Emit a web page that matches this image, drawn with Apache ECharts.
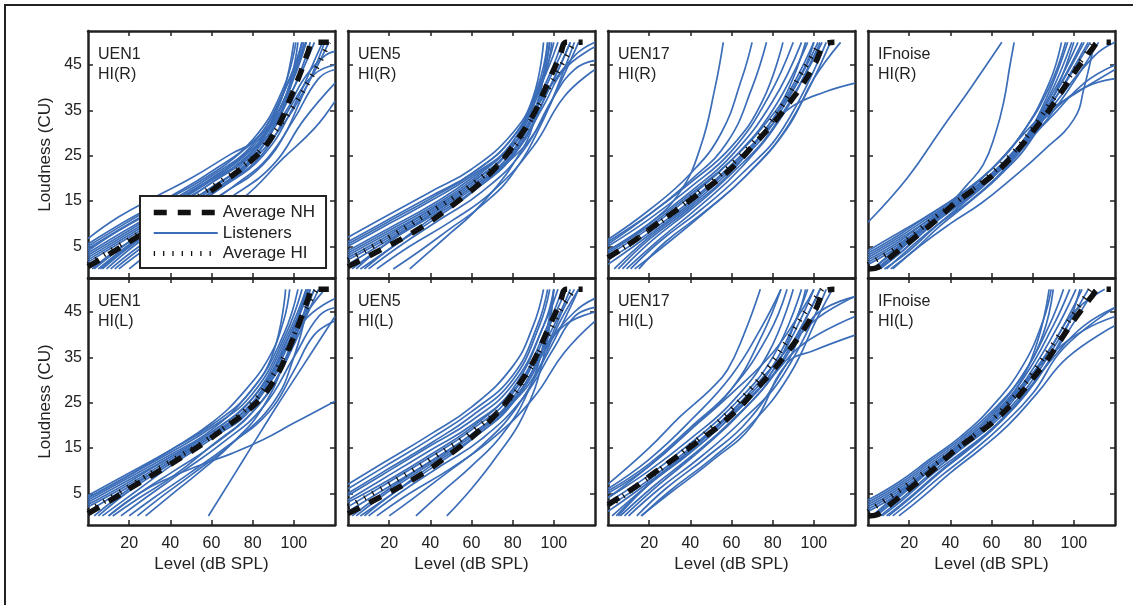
<!DOCTYPE html>
<html>
<head>
<meta charset="utf-8">
<script src="https://cdn.jsdelivr.net/npm/echarts@6/dist/echarts.min.js"></script>
<style>
html,body{margin:0;padding:0;background:#fff;}
#chart{width:1133px;height:605px;}
</style>
</head>
<body>
<div id="chart"></div>
<script>
// ---------- DATA ----------
const xTicks = [20, 40, 60, 80, 100];
const yTicks = [5, 15, 25, 35, 45];
const panelNames = [
  ['UEN1', 'HI(R)'], ['UEN5', 'HI(R)'], ['UEN17', 'HI(R)'], ['IFnoise', 'HI(R)'],
  ['UEN1', 'HI(L)'], ['UEN5', 'HI(L)'], ['UEN17', 'HI(L)'], ['IFnoise', 'HI(L)']
];
const legendNames = ['Average NH', 'Listeners', 'Average HI'];

// Average NH, one per stimulus
const nhUEN1 = [[0,0.5],[13,4],[23,6.8],[35,10],[45,12.8],[57,16.3],[67,19.6],[77,23],[86,27],[93,32],[98,37.3],[103,43],[107,48],[109,50],[117,50]];
const nhUEN5 = [[0,0.5],[15,4],[35,9],[55,15.5],[70,21.5],[80,27],[90,34],[97,41],[103,47],[106,50],[114,50]];
const nhUEN17 = [[0,2.5],[12,6],[23,9.7],[33,12.9],[43,16.2],[53,19.5],[63,23.5],[71,27.5],[80,32],[88,36.6],[95,41],[101,45.7],[105,49.5],[110,50]];
const nhIF = [[0,0],[4,0.2],[12,3],[23,7],[33,10.7],[42,14.4],[52,17.7],[62,21.2],[71,25.3],[79,29.7],[87,34.4],[94,39.1],[101,43.8],[109,48.6],[112,50],[118,50]];

// Average HI, one per panel
const hiUEN1R = [[0,1],[20,6.5],[40,12],[60,18],[80,24.5],[92,31],[100,36],[108,42],[113,46],[117,50]];
const hiUEN5R = [[0,2],[20,7],[40,12.5],[60,18.5],[80,26.5],[95,38],[105,46],[110,50]];
const hiUEN17R = [[0,2.5],[20,8.5],[40,15.5],[60,23],[80,33],[95,44],[103,50]];
const hiIFR = [[0,1],[15,5],[30,10.5],[45,15.5],[60,21],[75,28],[90,37.5],[102,45],[110,50]];
const hiUEN1L = [[0,1],[20,6.5],[40,12],[60,17.5],[80,25],[95,35],[104,44],[111,50]];
const hiUEN5L = [[0,2],[20,7],[40,12.5],[60,18.5],[80,26.5],[95,38],[104,46],[110,50]];
const hiUEN17L = [[0,2],[20,8.5],[40,15.5],[60,23.5],[80,34],[95,44.5],[104,50]];
const hiIFL = [[0,1],[15,5.5],[30,10.5],[45,15.5],[60,21],[75,28.5],[90,38],[102,46],[108,50]];

// Individual listeners: [level dB SPL, loudness CU]
const lisUEN1R = [
  [[0,6.7],[15,11.5],[33,16],[50,20],[70,25.5],[80,28],[90,34],[95,39],[100,50]],
  [[0,5.5],[20,11],[40,16],[60,21.5],[80,28.5],[95,40],[101,50]],
  [[0,4.5],[20,10],[40,15],[60,20.5],[80,27.5],[96,40],[104,50]],
  [[0,3.5],[20,9],[40,14],[60,19.5],[80,26],[97,39],[106,50]],
  [[0,2.5],[20,8],[40,13.5],[60,19],[80,26],[98,42],[104,50]],
  [[0,1.5],[20,7],[40,12.5],[60,18],[80,25],[100,44],[106,50]],
  [[3,0],[20,6],[40,12],[60,18],[80,24.5],[98,38],[108,50]],
  [[7,0],[22,5.5],[40,11],[60,17],[80,24],[100,40],[110,50]],
  [[11,0],[25,5],[45,11],[65,16.5],[85,23],[100,33],[112,42],[120,44]],
  [[15,0],[30,5],[50,10.5],[70,16],[90,23],[105,33],[120,41]],
  [[20,0],[35,5],[55,10],[75,15.5],[95,24.5],[110,31],[120,37]],
  [[5,0],[25,7],[45,12.5],[65,18],[85,25],[100,36],[112,48],[114,50]],
  [[0,3],[20,8.5],[40,14],[60,20],[80,27],[95,37],[102,50]],
  [[9,0],[25,6],[45,12],[65,18],[85,25.5],[100,37],[110,43],[120,45]],
  [[13,0],[30,6],[50,12],[70,18],[90,26],[105,39],[115,50]],
  [[0,2],[20,7.5],[40,13],[60,19],[80,26],[95,34],[105,42],[115,47],[120,48]],
  [[0,4],[15,8.5],[35,13.5],[55,18.5],[75,24.5],[90,32],[98,40],[104,50]],
  [[2,0],[15,4.5],[35,10],[55,16],[75,23],[92,33],[102,45],[106,50]],
  [[0,5],[18,10],[35,14.5],[55,19.5],[75,26],[90,33],[100,43],[105,50]],
  [[6,0],[20,5],[40,11],[60,17],[80,24],[95,32],[107,41],[117,50]]
];
const lisUEN5R = [
  [[0,7],[20,12],[40,17],[60,22],[80,30],[90,38],[95,50]],
  [[0,6],[20,11],[40,16],[60,21],[80,29],[92,40],[97,50]],
  [[0,5],[20,10],[40,15],[60,20.5],[80,28],[95,42],[99,50]],
  [[0,4],[20,9],[40,14],[60,20],[80,28],[96,44],[100,50]],
  [[0,3],[20,8],[40,13],[60,19],[80,27],[97,44],[102,50]],
  [[0,2],[20,7],[40,12.5],[60,18.5],[80,26],[98,43],[104,50]],
  [[2,0],[20,6],[40,12],[60,18],[80,25.5],[100,44],[106,50]],
  [[6,0],[22,5],[40,11],[60,17],[80,25],[100,42],[108,50]],
  [[10,0],[25,5],[45,11],[65,17],[85,26],[100,38],[110,44],[120,46]],
  [[14,0],[30,5],[50,10.5],[70,17],[90,27],[105,38],[120,44]],
  [[30,0],[40,4],[50,8],[60,12],[70,17],[80,23],[90,32],[97,50]],
  [[0,1],[20,6.5],[40,12],[60,18],[80,25],[95,36],[105,44],[120,49]],
  [[4,0],[20,6],[40,11.5],[60,17.5],[80,24.5],[92,31],[102,40],[112,50]],
  [[0,3.5],[20,8.5],[40,13.5],[60,19.5],[80,27.5],[90,34],[98,50]],
  [[0,5.5],[20,10.5],[40,15.5],[60,21],[80,29],[93,40],[98,50]],
  [[8,0],[22,5],[42,11],[62,17.5],[82,26],[98,40],[108,50]],
  [[22,0],[35,4],[50,9],[65,14],[80,21],[95,33],[105,44],[110,50]],
  [[0,2.5],[20,7.5],[40,13],[60,19],[80,27],[95,38],[110,47],[120,50]]
];
const lisUEN17R = [
  [[0,4],[20,10],[35,17],[45,27],[52,40],[56,50]],
  [[0,6],[20,12],[40,19],[60,27],[75,37],[85,50]],
  [[0,5],[20,11],[40,18],[60,26],[78,38],[90,50]],
  [[0,4],[20,10],[40,17],[60,25],[80,37],[94,50]],
  [[0,3],[20,9],[40,16],[60,24],[80,35],[97,50]],
  [[0,2],[20,8],[40,15],[60,23],[80,33],[100,50]],
  [[3,0],[20,7],[40,14],[60,22],[80,32],[102,50]],
  [[7,0],[22,6.5],[40,13],[60,21],[80,31],[104,50]],
  [[11,0],[25,6],[45,13],[65,21],[85,31],[106,50]],
  [[15,0],[28,6],[48,13],[68,21],[88,32],[108,50]],
  [[0,1],[20,7.5],[40,14.5],[60,22.5],[80,32],[90,36],[105,39],[120,41]],
  [[5,0],[20,6.5],[40,13.5],[60,21.5],[80,33],[95,44],[100,50]],
  [[0,3.5],[20,9.5],[40,16.5],[60,24],[80,34],[88,40],[96,50]],
  [[9,0],[25,6.5],[45,14],[65,22.5],[85,34],[100,47],[103,50]],
  [[0,6.5],[20,13],[40,21],[55,30],[65,42],[70,50]],
  [[0,5.5],[20,12],[40,19.5],[58,28],[70,40],[77,50]],
  [[13,0],[27,5],[47,12.5],[67,20.5],[87,31],[100,42],[113,50]]
];
const lisIFR = [
  [[0,3],[15,7],[30,11.5],[45,16],[60,21],[75,28],[90,38],[105,50]],
  [[0,2],[15,6],[30,11],[45,15.5],[60,21],[75,28],[90,39],[102,50]],
  [[0,1],[15,5],[30,10.5],[45,15],[60,20.5],[75,27.5],[90,38],[104,50]],
  [[2,0],[15,4.5],[30,10],[45,15],[60,20],[75,27],[90,37],[107,50]],
  [[5,0],[17,4],[30,9.5],[45,14.5],[60,20],[75,28],[88,38],[99,50]],
  [[8,0],[20,4],[32,9],[45,14],[60,20],[75,28],[87,38],[97,50]],
  [[11,0],[22,4],[35,9.5],[50,15],[65,21],[80,29],[92,40],[100,50]],
  [[0,2.5],[15,6.5],[30,11],[45,16],[60,22],[75,30],[88,40],[96,50]],
  [[0,1.5],[15,5.5],[30,10.5],[45,15.5],[60,21],[75,28],[90,35],[105,40],[120,42]],
  [[3,0],[15,5],[30,10],[45,15],[60,20],[75,27],[90,34],[105,41],[120,45]],
  [[12,0],[25,5],[40,10],[55,14.5],[70,20],[85,26],[100,33],[105,40],[110,50]],
  [[0,10.3],[19,20],[35,30.4],[50,40],[65,50]],
  [[5,0],[20,6],[35,12],[48,18.5],[56,23],[62,30],[66,37],[69,45],[71,50]],
  [[6,0],[18,4.5],[32,10],[48,15.5],[62,21],[76,28],[90,37],[100,44],[108,50]],
  [[0,4],[15,8],[30,12],[45,16.5],[60,22],[72,28],[85,34],[100,38.5],[120,44]],
  [[0,3.5],[15,7.5],[30,12],[45,16.5],[60,22],[75,30],[88,41],[94,50]],
  [[4,0],[16,4.5],[30,10],[45,15],[60,20.5],[75,27],[90,36],[110,47],[120,50]],
  [[9,0],[20,4.5],[33,9.5],[48,14.5],[62,20],[76,27],[92,36],[112,50]]
];
const lisUEN1L = [
  [[0,4.5],[20,9.5],[40,14.5],[60,20],[80,28],[95,40],[102,50]],
  [[0,4],[20,9],[40,14],[60,19.5],[80,27],[96,40],[104,50]],
  [[0,3],[20,8],[40,13],[60,18.5],[80,26],[97,40],[106,50]],
  [[0,2],[20,7],[40,12.5],[60,18],[80,25],[98,40],[108,50]],
  [[3,0],[20,6],[40,12],[60,17.5],[80,24.5],[100,42],[106,50]],
  [[7,0],[22,5],[40,11],[60,17],[80,24],[100,40],[110,50]],
  [[12,0],[25,4],[42,9],[60,15.5],[80,23],[95,33],[105,45],[108,50]],
  [[16,0],[28,4],[45,9.5],[65,16],[85,24],[100,35],[112,44],[120,46]],
  [[20,0],[32,4],[48,9],[68,15.5],[88,23],[100,32],[110,40],[120,43]],
  [[24,0],[35,4],[50,9],[70,16],[90,25],[100,35],[108,48],[110,50]],
  [[58.5,0],[75,12],[90,23],[105,33.5],[120,44]],
  [[10,0],[25,5],[40,8.5],[55,11.3],[70,13.8],[85,16.8],[100,20.5],[120,25.3]],
  [[0,1],[20,6.5],[40,12],[60,18],[80,25],[96,37],[104,46],[107,50]],
  [[5,0],[20,5.5],[40,11.5],[60,17.5],[80,25],[95,34],[105,43],[120,48]],
  [[0,3.5],[20,8.5],[40,13.5],[60,19],[78,27],[90,36],[96,50]],
  [[0,4],[20,9],[40,14.5],[60,20.5],[75,27],[88,35],[95,43],[98,50]],
  [[0,2.5],[20,7.5],[40,13],[60,18.5],[80,26],[95,36],[105,44],[115,50]],
  [[10,0],[25,5],[42,10],[62,16],[82,24],[97,35],[108,46],[112,50]],
  [[28,0],[40,4.5],[55,10],[70,16],[85,24],[97,36],[104,46],[107,50]]
];
const lisUEN5L = [
  [[0,7],[20,12.5],[40,18],[60,24],[80,33],[90,42],[95,50]],
  [[0,6],[20,11.5],[40,17],[60,23],[80,31],[92,42],[97,50]],
  [[0,4.5],[20,10],[40,15.5],[60,21],[80,29],[95,42],[100,50]],
  [[0,3.5],[20,9],[40,14.5],[60,20],[80,28],[97,44],[102,50]],
  [[0,2],[20,7.5],[40,13],[60,19],[80,27],[98,43],[104,50]],
  [[2,0],[20,6],[40,12],[60,18],[80,26],[100,44],[106,50]],
  [[6,0],[22,5],[40,11],[60,17],[80,25],[100,42],[108,50]],
  [[10,0],[25,5],[45,11],[65,17],[85,26],[100,37],[110,44],[120,46]],
  [[14,0],[30,5],[50,10.5],[70,17],[90,26],[105,36],[120,43]],
  [[33,0],[45,5],[60,11],[75,18],[88,28],[96,40],[100,50]],
  [[48,0],[60,6],[72,13],[85,22],[95,35],[100,50]],
  [[0,1],[20,6.5],[40,12],[60,18],[80,25.5],[95,36],[105,42],[120,45]],
  [[4,0],[20,5.5],[40,11.5],[60,17.5],[80,25],[92,32],[102,42],[112,50]],
  [[0,5],[20,10.5],[40,16],[60,22],[80,30],[93,42],[98,50]],
  [[8,0],[22,5],[42,11],[62,17.5],[82,26],[97,38],[105,46],[110,50]],
  [[20,0],[32,4],[48,9.5],[65,15.5],[82,24],[97,36],[108,46],[112,50]],
  [[0,3],[20,8],[40,13.5],[60,19.5],[80,27.5],[95,37],[110,45],[120,48]]
];
const lisUEN17L = [
  [[0,7],[20,15],[35,21.9],[50,28],[58,32.2],[66,40],[74,50]],
  [[0,5],[20,11],[40,19],[60,28],[75,40],[84,50]],
  [[0,4],[20,10],[40,17],[60,25],[78,36],[90,50]],
  [[0,3],[20,9],[40,16],[60,24],[80,35],[94,50]],
  [[0,2],[20,8],[40,15],[60,23],[80,33],[97,50]],
  [[2,0],[20,7],[40,14],[60,22],[80,32],[100,50]],
  [[6,0],[22,6.5],[40,13],[60,21],[80,31],[103,50]],
  [[10,0],[25,6],[45,13],[65,21],[85,31],[106,50]],
  [[14,0],[28,6],[48,13],[68,21],[86,33],[100,44],[120,48.4]],
  [[16,0],[30,5],[50,12],[70,20],[87,33.7],[100,36.5],[120,39.9]],
  [[0,1],[20,7.5],[40,14.5],[60,22.5],[80,31],[95,38],[120,44]],
  [[4,0],[20,7],[40,14],[60,22],[80,32],[92,44],[96,50]],
  [[0,4],[20,11],[40,19],[60,27],[80,36],[95,46],[100,50]],
  [[8,0],[25,7],[45,14.5],[65,23],[85,34],[100,47],[103,50]],
  [[0,6],[20,12.5],[40,21],[60,31],[75,42],[84,50]],
  [[0,5.5],[20,11.5],[40,19.5],[60,28],[78,40],[87,50]],
  [[5,0],[20,7],[40,14.5],[60,23],[80,33],[100,43],[120,48.4]],
  [[16.4,0],[30,5.5],[50,12.5],[70,20.5],[88,31],[102,44],[109,50]]
];
const lisIFL = [
  [[0,3],[15,7],[30,12],[45,17],[60,23],[75,31],[88,42],[95,50]],
  [[0,2],[15,6],[30,11],[45,16],[60,22],[75,30],[90,42],[98,50]],
  [[0,1],[15,5],[30,10.5],[45,15.5],[60,21],[75,29],[90,40],[101,50]],
  [[3,0],[15,4.5],[30,10],[45,15],[60,20.5],[75,28],[90,38],[104,50]],
  [[6,0],[18,4.5],[32,10],[46,15],[60,20],[75,27],[90,37],[107,50]],
  [[9,0],[20,4],[34,9.5],[48,14.5],[62,20],[77,27],[92,37],[110,50]],
  [[12,0],[23,4],[36,9],[50,14],[64,19.5],[80,27],[95,37],[120,46]],
  [[15,0],[26,4],[40,9.5],[54,14.5],[68,20],[82,27],[97,35],[120,42]],
  [[0,2.5],[15,6.5],[30,11.5],[45,16.5],[60,22.5],[75,31],[85,40],[90,50]],
  [[0,1.5],[15,5.5],[30,10.5],[45,16],[60,21.5],[75,29],[90,36],[105,41],[120,44]],
  [[4,0],[16,4.5],[30,10],[45,15.5],[60,21],[72,28],[82,38],[88,50]],
  [[10,0],[22,4.5],[36,10],[50,15],[65,21],[80,29],[95,40],[103,50]],
  [[0,3.5],[15,7.5],[30,12.5],[45,17.5],[60,24],[75,33],[85,43],[89,50]],
  [[2,0],[15,5],[30,10.5],[45,15.5],[60,21],[75,28.5],[90,38],[100,45],[115,50]],
  [[7,0],[18,4],[32,9.5],[47,14.5],[62,20],[77,27.5],[92,36],[105,42],[120,46]]
];

// ---------- BUILD ----------
const listenerSets = [lisUEN1R, lisUEN5R, lisUEN17R, lisIFR, lisUEN1L, lisUEN5L, lisUEN17L, lisIFL];
const nhSets = [nhUEN1, nhUEN5, nhUEN17, nhIF, nhUEN1, nhUEN5, nhUEN17, nhIF];
const hiSets = [hiUEN1R, hiUEN5R, hiUEN17R, hiIFR, hiUEN1L, hiUEN5L, hiUEN17L, hiIFL];

const FONT = '"Liberation Sans", Arial, Helvetica, sans-serif';
const TXT = '#222';
const BLUE = '#3b6db8';
const BLACK = '#111';
const colLeft = [88, 348, 608, 868];
const rowTop = [31, 278];
const PW = 247, PH = 247;
const nhStyle = { color: BLACK, width: 5.5, type: [13, 11], cap: 'butt' };
const hiStyle = { color: BLACK, width: 5, type: [1.3, 8], cap: 'butt' };
const lisStyle = { color: BLUE, width: 1.7 };

const grids = [], xAxes = [], yAxes = [], series = [], titles = [];
const lineAx = { show: true, onZero: false, lineStyle: { color: '#222', width: 2.5 } };

for (let i = 0; i < 8; i++) {
  const r = Math.floor(i / 4), c = i % 4;
  grids.push({ left: colLeft[c], top: rowTop[r], width: PW, height: PH, containLabel: false });
  const xBase = {
    gridIndex: i, type: 'value', min: 0, max: 120,
    axisLine: lineAx, splitLine: { show: false },
    axisTick: { show: true, inside: true, length: 5, customValues: xTicks, lineStyle: { color: '#222', width: 1.5 } }
  };
  xAxes.push(Object.assign({}, xBase, {
    position: 'bottom',
    axisLabel: { show: r === 1, customValues: xTicks, fontSize: 16, color: TXT, fontFamily: FONT, margin: 11 },
    name: r === 1 ? 'Level (dB SPL)' : '', nameLocation: 'middle', nameGap: 31,
    nameTextStyle: { fontSize: 17, color: TXT, fontFamily: FONT }
  }));
  xAxes.push(Object.assign({}, xBase, { position: 'top', axisLabel: { show: false } }));
  const yBase = {
    gridIndex: i, type: 'value', min: -2, max: 52.5,
    axisLine: lineAx, splitLine: { show: false },
    axisTick: { show: true, inside: true, length: 5, customValues: yTicks, lineStyle: { color: '#222', width: 1.5 } }
  };
  yAxes.push(Object.assign({}, yBase, {
    position: 'left',
    axisLabel: { show: c === 0, customValues: yTicks, fontSize: 16, color: TXT, fontFamily: FONT, margin: 6 },
    name: c === 0 ? 'Loudness (CU)' : '', nameLocation: 'middle', nameGap: 34, nameRotate: 90,
    nameTextStyle: { fontSize: 17, color: TXT, fontFamily: FONT }
  }));
  yAxes.push(Object.assign({}, yBase, { position: 'right', axisLabel: { show: false } }));

  listenerSets[i].forEach(curve => {
    series.push({
      type: 'line', name: legendNames[1], xAxisIndex: 2 * i, yAxisIndex: 2 * i,
      data: curve, symbol: 'none', smooth: 0.45, silent: true,
      lineStyle: lisStyle, itemStyle: { color: BLUE }, z: 2
    });
  });
  series.push({
    type: 'line', name: legendNames[0], xAxisIndex: 2 * i, yAxisIndex: 2 * i,
    data: nhSets[i], symbol: 'none', smooth: 0.35, silent: true,
    lineStyle: nhStyle, itemStyle: { color: BLACK }, z: 3
  });
  series.push({
    type: 'line', name: legendNames[2], xAxisIndex: 2 * i, yAxisIndex: 2 * i,
    data: hiSets[i], symbol: 'none', smooth: 0.35, silent: true,
    lineStyle: hiStyle, itemStyle: { color: BLACK }, z: 4
  });

  titles.push({
    text: panelNames[i][0] + '\n' + panelNames[i][1],
    left: colLeft[c] + 10, top: rowTop[r] + 14, padding: 0,
    textStyle: { fontSize: 16, fontWeight: 'normal', color: TXT, fontFamily: FONT, lineHeight: 20 }
  });
}

const chart = echarts.init(document.getElementById('chart'), null, { renderer: 'canvas' });
chart.setOption({
  animation: false,
  backgroundColor: '#fff',
  title: titles,
  grid: grids,
  xAxis: xAxes,
  yAxis: yAxes,
  series: series,
  legend: {
    data: [
      { name: legendNames[0], itemStyle: { opacity: 0 }, lineStyle: nhStyle },
      { name: legendNames[1], itemStyle: { opacity: 0 }, lineStyle: { color: BLUE, width: 2 } },
      { name: legendNames[2], itemStyle: { opacity: 0 }, lineStyle: hiStyle }
    ],
    orient: 'vertical', left: 140, top: 196,
    itemWidth: 64, itemHeight: 14, itemGap: 3.5,
    padding: [8, 11, 6, 11],
    borderColor: '#222', borderWidth: 2, backgroundColor: '#fff',
    selectedMode: false, z: 10,
    textStyle: { fontSize: 17, color: TXT, fontFamily: FONT }
  },
  graphic: [{
    type: 'rect', shape: { x: 5, y: 5, width: 1200, height: 700 },
    style: { fill: 'none', stroke: '#222', lineWidth: 2 }, silent: true
  }]
});
</script>
</body>
</html>
